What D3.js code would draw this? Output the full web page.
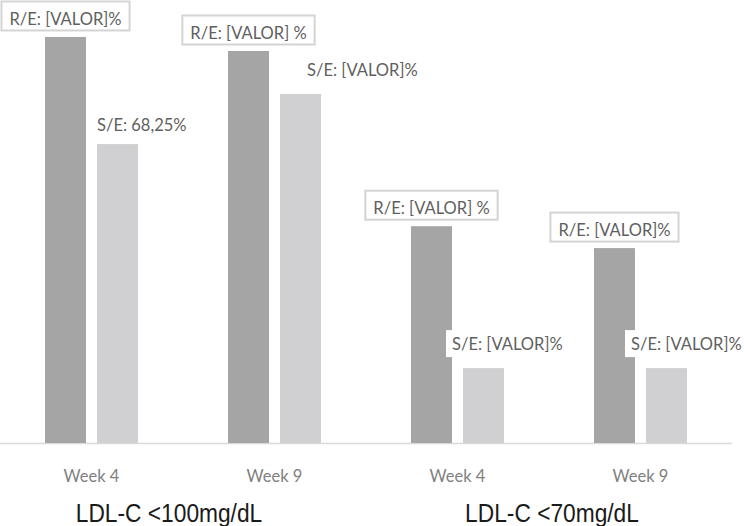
<!DOCTYPE html>
<html>
<head>
<meta charset="utf-8">
<script src="https://cdn.jsdelivr.net/npm/d3@7"></script>
<style>
  html, body { margin: 0; padding: 0; background: #fff; }
  svg { display: block; }
</style>
</head>
<body>
<svg id="chart" width="744" height="526"></svg>
<script>
// ---- data ----
const weeks = ["Week 4", "Week 9", "Week 4", "Week 9"];
const groupLabels = ["LDL-C <100mg/dL", "LDL-C <70mg/dL"];
const series = ["R/E", "S/E"];
const reValues = [92.7, 89.5, 49.5, 44.5];
const seValues = [68.25, 79.7, 17.1, 17.1];
const reLabels = ["R/E: [VALOR]%", "R/E: [VALOR] %", "R/E: [VALOR] %", "R/E: [VALOR]%"];
const seLabels = ["S/E: 68,25%", "S/E: [VALOR]%", "S/E: [VALOR]%", "S/E: [VALOR]%"];

// ---- layout (manual label nudges as in the original) ----
const seLabelDx = [0, 27, -11, -15];
const seLabelDy = [13, 18, 18, 18];
const groupLabelDx = [-14, 3];

const colors = { "R/E": "#a5a5a5", "S/E": "#d0d0d2" };

const svg = d3.select("#chart");
const baseY = 443;

const x0 = d3.scaleBand().domain(d3.range(weeks.length)).range([0, 732]).paddingInner(0).paddingOuter(0);
const x1 = d3.scaleBand().domain(series).range([45, 138]).paddingInner(11 / 52).paddingOuter(0);
const y = d3.scaleLinear().domain([0, 100]).range([baseY, 5]);

const data = weeks.map((w, i) => ({ i, week: w, values: { "R/E": reValues[i], "S/E": seValues[i] } }));

// axis line
svg.append("line")
  .attr("x1", 0).attr("x2", 732)
  .attr("y1", baseY + 0.5).attr("y2", baseY + 0.5)
  .attr("stroke", "#d9d9d9").attr("stroke-width", 1.5);

// bars
const g = svg.selectAll("g.grp").data(data).join("g")
  .attr("class", "grp")
  .attr("transform", d => `translate(${x0(d.i)},0)`);

g.selectAll("rect.bar").data(d => series.map(s => ({ s, v: d.values[s] }))).join("rect")
  .attr("class", "bar")
  .attr("x", d => x1(d.s))
  .attr("width", x1.bandwidth())
  .attr("y", d => y(d.v))
  .attr("height", d => y(0) - y(d.v))
  .attr("fill", d => colors[d.s]);

const labelFont = "Lato, 'Open Sans', sans-serif";
const labelColor = "#5f5f5f";
const labelSize = 16.5;

// R/E boxed labels
data.forEach(d => {
  const cx = x0(d.i) + x1("R/E") + x1.bandwidth() / 2;
  const top = y(d.values["R/E"]);
  const t = svg.append("text")
    .attr("x", cx).attr("y", top - 12)
    .attr("text-anchor", "middle")
    .attr("font-family", labelFont)
    .attr("font-size", labelSize)
    .attr("fill", labelColor)
    .text(reLabels[d.i]);
  const w = t.node().getComputedTextLength();
  svg.insert("rect", "text")
    .attr("x", cx - w / 2 - 8).attr("y", top - 35.5)
    .attr("width", w + 16).attr("height", 29)
    .attr("fill", "#fff")
    .attr("stroke", "#d4d4d4").attr("stroke-width", 2);
});

// S/E labels (white background)
data.forEach(d => {
  const lx = x0(d.i) + x1("S/E") + seLabelDx[d.i];
  const top = y(d.values["S/E"]);
  const gy = top - seLabelDy[d.i];
  const bg = svg.append("rect").attr("fill", "#fff");
  const t = svg.append("text")
    .attr("x", lx).attr("y", gy)
    .attr("font-family", labelFont)
    .attr("font-size", labelSize)
    .attr("fill", labelColor)
    .text(seLabels[d.i]);
  const w = t.node().getComputedTextLength();
  bg.attr("x", lx - 6).attr("y", gy - 20).attr("width", w + 10).attr("height", 27);
});

// week labels
svg.selectAll("text.week").data(data).join("text")
  .attr("class", "week")
  .attr("x", d => x0(d.i) + x0.bandwidth() / 2)
  .attr("y", 482)
  .attr("text-anchor", "middle")
  .attr("font-family", labelFont)
  .attr("font-size", 16.5)
  .attr("fill", "#7f7f7f")
  .text(d => d.week);

// group labels
groupLabels.forEach((lab, k) => {
  const cx = (x0(2 * k) + x0(2 * k + 1) + x0.bandwidth()) / 2 + groupLabelDx[k];
  svg.append("text")
    .attr("transform", `translate(${cx},522) scale(0.91,1)`)
    .attr("text-anchor", "middle")
    .attr("font-family", "'Liberation Sans', Arial, sans-serif")
    .attr("font-size", 25)
    .attr("fill", "#1a1a1a")
    .text(lab);
});
</script>
</body>
</html>
